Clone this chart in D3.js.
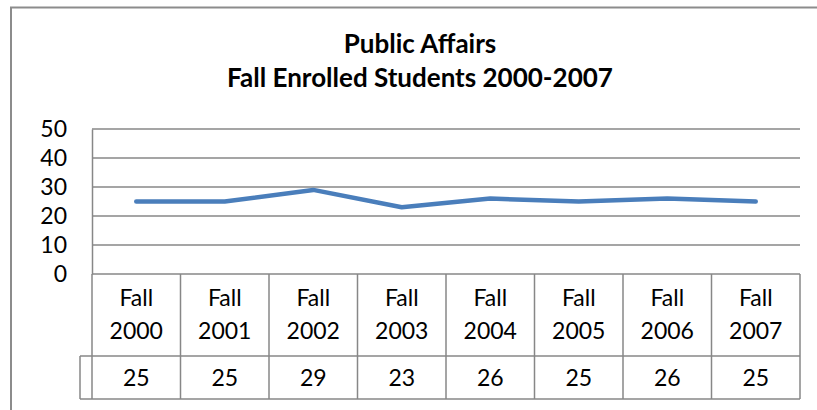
<!DOCTYPE html>
<html>
<head>
<meta charset="utf-8">
<script src="https://cdn.jsdelivr.net/npm/d3@7"></script>
<style>
  body { margin: 0; background: #fff; }
  svg { display: block; font-family: Lato, "Open Sans", sans-serif; }
</style>
</head>
<body>
<div id="chart"></div>
<script>
// data
var categories = ["Fall 2000", "Fall 2001", "Fall 2002", "Fall 2003", "Fall 2004", "Fall 2005", "Fall 2006", "Fall 2007"];
var enrolled = [25, 25, 29, 23, 26, 25, 26, 25];
var yTicks = [0, 10, 20, 30, 40, 50];
var titleLines = ["Public Affairs", "Fall Enrolled Students 2000-2007"];

var totalWidth = 817, totalHeight = 410;
var plot = { left: 92, right: 800, top: 129, bottom: 274 };
var row1Bottom = 356, row2Bottom = 399, legendLeft = 80;
var gridColor = "#878787";
var labelSize = 23;

var svg = d3.select("#chart").append("svg")
  .attr("width", totalWidth)
  .attr("height", totalHeight);

// outer chart border (cut off at right and bottom)
svg.append("path")
  .attr("d", "M11," + totalHeight + "V7.5H" + totalWidth)
  .attr("fill", "none")
  .attr("stroke", "#8c8c8c")
  .attr("stroke-width", 2);

// title
svg.append("text")
  .attr("text-anchor", "middle")
  .attr("font-weight", "bold")
  .attr("font-size", 26)
  .attr("fill", "#000")
  .selectAll("tspan")
  .data(titleLines)
  .join("tspan")
  .attr("x", 420)
  .attr("y", (d, i) => 53 + i * 34)
  .text(d => d);

// scales
var x = d3.scaleBand().domain(categories).range([plot.left, plot.right]);
var y = d3.scaleLinear().domain([0, 50]).range([plot.bottom, plot.top]);

// gridlines
svg.append("g")
  .selectAll("line")
  .data(yTicks)
  .join("line")
  .attr("x1", plot.left).attr("x2", plot.right)
  .attr("y1", d => y(d)).attr("y2", d => y(d))
  .attr("stroke", gridColor)
  .attr("stroke-width", 1.5);

// y axis
var yAxis = svg.append("g")
  .attr("transform", "translate(" + plot.left + ",0)")
  .call(d3.axisLeft(y).tickValues(yTicks).tickSize(0).tickPadding(25));
yAxis.select(".domain").attr("stroke", gridColor).attr("stroke-width", 1.5);
yAxis.selectAll("text")
  .attr("font-size", labelSize)
  .attr("font-family", "Lato, sans-serif")
  .attr("fill", "#000");

// data table
var table = svg.append("g").attr("stroke", gridColor).attr("stroke-width", 1.5).attr("fill", "none");
table.append("line").attr("x1", legendLeft).attr("x2", plot.right).attr("y1", row1Bottom).attr("y2", row1Bottom);
table.append("line").attr("x1", legendLeft).attr("x2", plot.right).attr("y1", row2Bottom).attr("y2", row2Bottom);
table.append("line").attr("x1", legendLeft).attr("x2", legendLeft).attr("y1", row1Bottom).attr("y2", row2Bottom);
var edges = categories.map(c => x(c)).concat([plot.right]);
table.selectAll(".v")
  .data(edges)
  .join("line")
  .attr("x1", d => d).attr("x2", d => d)
  .attr("y1", plot.bottom).attr("y2", row2Bottom);

// category labels
svg.append("g")
  .selectAll("text")
  .data(categories)
  .join("text")
  .attr("text-anchor", "middle")
  .attr("font-size", labelSize)
  .attr("fill", "#000")
  .each(function(d) {
    var parts = d.split(" ");
    d3.select(this).selectAll("tspan")
      .data(parts)
      .join("tspan")
      .attr("x", x(d) + x.bandwidth() / 2)
      .attr("y", (p, i) => 306 + i * 33)
      .text(p => p);
  });

// values row
svg.append("g")
  .selectAll("text")
  .data(enrolled)
  .join("text")
  .attr("text-anchor", "middle")
  .attr("font-size", labelSize)
  .attr("fill", "#000")
  .attr("x", (d, i) => x(categories[i]) + x.bandwidth() / 2)
  .attr("y", 386)
  .text(d => d);

// line
var line = d3.line()
  .x((d, i) => x(categories[i]) + x.bandwidth() / 2)
  .y(d => y(d));

svg.append("path")
  .datum(enrolled)
  .attr("d", line)
  .attr("fill", "none")
  .attr("stroke", "#4a7ebb")
  .attr("stroke-width", 4.5)
  .attr("stroke-linejoin", "round")
  .attr("stroke-linecap", "round");
</script>
</body>
</html>
